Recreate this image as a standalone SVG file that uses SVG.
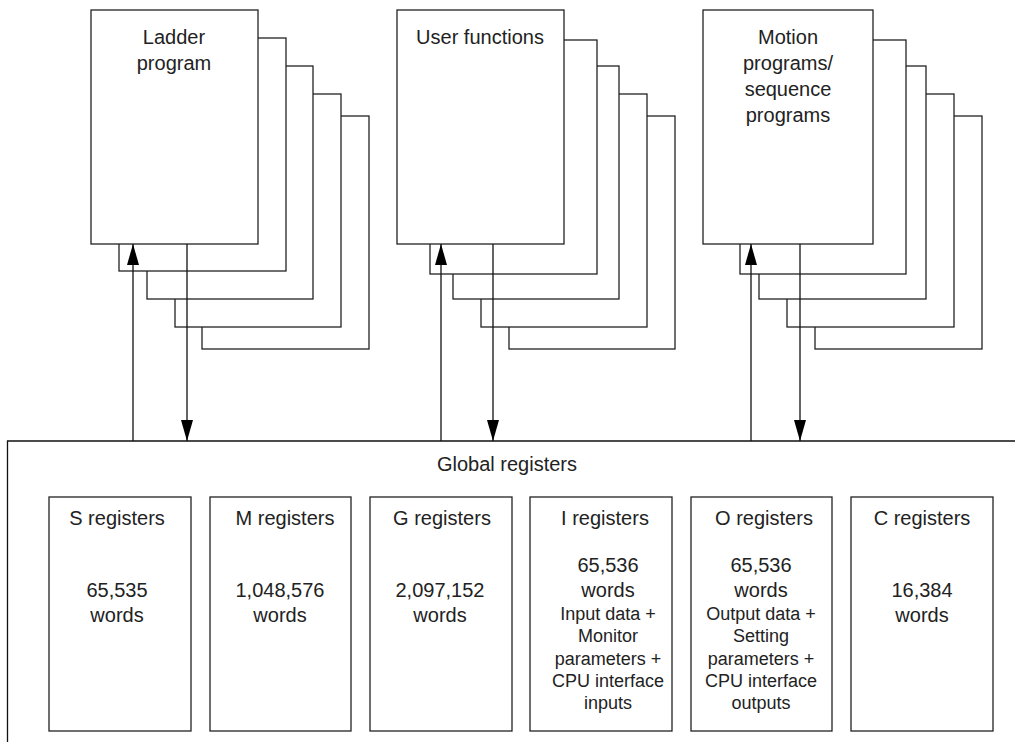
<svg xmlns="http://www.w3.org/2000/svg" width="1015" height="742" viewBox="0 0 1015 742">
<style>
.sh{fill:#fff;stroke:#222;stroke-width:1.3}
.ln{fill:none;stroke:#111;stroke-width:1.3}
.ar{fill:none;stroke:#111;stroke-width:1.3;marker-end:url(#ah)}
text{font-family:"Liberation Sans",Arial,sans-serif;fill:#222;text-anchor:middle}
.t{font-size:20px}
.s{font-size:18px}
</style>
<defs>
<marker id="ah" viewBox="0 0 21 12" refX="21" refY="6" markerWidth="21" markerHeight="12" markerUnits="userSpaceOnUse" orient="auto">
<path d="M0 0 L21 6 L0 12 Z" fill="#000"/>
</marker>
</defs>
<rect width="1015" height="742" fill="#fff"/>
<g id="ladder">
<rect class="sh" x="202" y="116" width="167" height="233"/>
<rect class="sh" x="175" y="94" width="166" height="233"/>
<rect class="sh" x="147" y="66" width="166" height="233"/>
<rect class="sh" x="119" y="38" width="167" height="233"/>
<rect class="sh" x="91" y="10" width="167" height="234"/>
<text class="t" x="174" y="44">Ladder</text>
<text class="t" x="174" y="70">program</text>
</g>
<g id="userfunctions">
<rect class="sh" x="509" y="116" width="166" height="233"/>
<rect class="sh" x="481" y="94" width="166" height="233"/>
<rect class="sh" x="453" y="66" width="166" height="233"/>
<rect class="sh" x="430" y="40" width="167" height="234"/>
<rect class="sh" x="397" y="10" width="167" height="234"/>
<text class="t" x="480" y="44">User functions</text>
</g>
<g id="motion">
<rect class="sh" x="815" y="116" width="167" height="233"/>
<rect class="sh" x="787" y="94" width="167" height="233"/>
<rect class="sh" x="759" y="66" width="167" height="233"/>
<rect class="sh" x="740" y="40" width="166" height="234"/>
<rect class="sh" x="703" y="10" width="170" height="234"/>
<text class="t" x="788" y="44">Motion</text>
<text class="t" x="788" y="70">programs/</text>
<text class="t" x="788" y="96">sequence</text>
<text class="t" x="788" y="122">programs</text>
</g>
<g id="global">
<path class="ln" d="M1015 441 H7.5 V742"/>
<text class="t" x="507" y="471">Global registers</text>
</g>
<g id="sreg">
<rect class="sh" x="49" y="497" width="142" height="234"/>
<text class="t" x="117" y="525">S registers</text>
<text class="t" x="117" y="597">65,535</text>
<text class="t" x="117" y="622">words</text>
</g>
<g id="mreg">
<rect class="sh" x="210" y="497" width="141" height="234"/>
<text class="t" x="285" y="525">M registers</text>
<text class="t" x="280" y="597">1,048,576</text>
<text class="t" x="280" y="622">words</text>
</g>
<g id="greg">
<rect class="sh" x="370" y="497" width="142" height="234"/>
<text class="t" x="442" y="525">G registers</text>
<text class="t" x="440" y="597">2,097,152</text>
<text class="t" x="440" y="622">words</text>
</g>
<g id="ireg">
<rect class="sh" x="530" y="497" width="142" height="234"/>
<text class="t" x="605" y="525">I registers</text>
<text class="t" x="608" y="572">65,536</text>
<text class="t" x="608" y="597">words</text>
<text class="s" x="608" y="620">Input data +</text>
<text class="s" x="608" y="642">Monitor</text>
<text class="s" x="608" y="665">parameters +</text>
<text class="s" x="608" y="687">CPU interface</text>
<text class="s" x="608" y="709">inputs</text>
</g>
<g id="oreg">
<rect class="sh" x="691" y="497" width="141" height="234"/>
<text class="t" x="764" y="525">O registers</text>
<text class="t" x="761" y="572">65,536</text>
<text class="t" x="761" y="597">words</text>
<text class="s" x="761" y="620">Output data +</text>
<text class="s" x="761" y="642">Setting</text>
<text class="s" x="761" y="665">parameters +</text>
<text class="s" x="761" y="687">CPU interface</text>
<text class="s" x="761" y="709">outputs</text>
</g>
<g id="creg">
<rect class="sh" x="851" y="497" width="142" height="234"/>
<text class="t" x="922" y="525">C registers</text>
<text class="t" x="922" y="597">16,384</text>
<text class="t" x="922" y="622">words</text>
</g>
<g id="connectors">
<line class="ar" x1="133" y1="441" x2="133" y2="244"/>
<line class="ar" x1="187" y1="244" x2="187" y2="441"/>
<line class="ar" x1="441" y1="441" x2="441" y2="244"/>
<line class="ar" x1="493" y1="244" x2="493" y2="441"/>
<line class="ar" x1="751" y1="441" x2="751" y2="244"/>
<line class="ar" x1="800" y1="244" x2="800" y2="441"/>
</g>
</svg>
